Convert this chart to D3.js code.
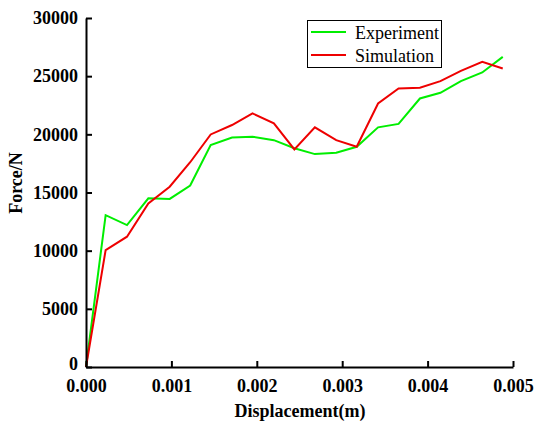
<!DOCTYPE html>
<html><head><meta charset="utf-8">
<script src="https://cdn.jsdelivr.net/npm/d3@7"></script>
<style>body{margin:0;background:#fff}</style>
</head><body>
<svg id="c" width="537" height="423"></svg>
<script>
const displacement = [0, 0.00023, 0.00048, 0.00073, 0.00098, 0.00122, 0.00146, 0.00171, 0.00195, 0.00220, 0.00244, 0.00268, 0.00293, 0.00317, 0.00342, 0.00366, 0.00391, 0.00415, 0.00439, 0.00464, 0.00488];
const experiment = [0, 13050, 12200, 14500, 14450, 15600, 19070, 19730, 19790, 19500, 18800, 18300, 18420, 18930, 20600, 20900, 23080, 23570, 24570, 25320, 26660];
const simulation = [0, 10050, 11200, 14060, 15500, 17600, 19990, 20800, 21800, 20940, 18700, 20600, 19500, 18930, 22650, 23950, 24000, 24570, 25460, 26230, 25660];
const seriesNames = ["Experiment", "Simulation"];
const seriesColors = ["#00ee00", "#ee0000"];
const xTicks = [0, 0.001, 0.002, 0.003, 0.004, 0.005];
const yTicks = [0, 5000, 10000, 15000, 20000, 25000, 30000];

const svg = d3.select("#c");
const x = d3.scaleLinear().domain([0, 0.005]).range([86, 513]);
const y = d3.scaleLinear().domain([0, 30000]).range([367, 18]);
const font = "'Liberation Serif', 'Times New Roman', serif";

const line = d3.line().x(d => x(d[0])).y(d => y(d[1]));
[experiment, simulation].forEach((s, i) => {
  svg.append("path")
    .datum(displacement.map((d, j) => [d, s[j]]))
    .attr("d", line).attr("fill", "none")
    .attr("stroke", seriesColors[i]).attr("stroke-width", 2)
    .attr("stroke-linejoin", "miter");
});

const xAxis = svg.append("g").attr("transform", "translate(0,367)")
  .call(d3.axisBottom(x).tickValues(xTicks).tickFormat(d3.format(".3f")).tickSizeInner(-6).tickSizeOuter(0).tickPadding(12));
const yAxis = svg.append("g").attr("transform", "translate(86,0)")
  .call(d3.axisLeft(y).tickValues(yTicks).tickFormat(d3.format("d")).tickSizeInner(-6).tickSizeOuter(0).tickPadding(8));
[xAxis, yAxis].forEach(g => {
  g.attr("font-family", null).attr("font-size", null);
  g.select(".domain").attr("stroke", "#000").attr("stroke-width", 2);
  g.selectAll(".tick line").attr("stroke", "#000").attr("stroke-width", 2);
  g.selectAll(".tick text").attr("fill", "#000").style("font-family", font)
    .style("font-weight", "bold").style("font-size", "18px");
});
yAxis.selectAll(".tick text").filter(d => d === 0).attr("dy", "0.12em");

svg.append("text").attr("x", 300).attr("y", 417).attr("text-anchor", "middle")
  .style("font-family", font).style("font-weight", "bold").style("font-size", "18px")
  .text("Displacement(m)");
svg.append("text").attr("transform", "translate(22,183) rotate(-90)").attr("text-anchor", "middle")
  .style("font-family", font).style("font-weight", "bold").style("font-size", "18px")
  .text("Force/N");

const lg = svg.append("g");
lg.append("rect").attr("x", 307.5).attr("y", 20.5).attr("width", 134).attr("height", 47)
  .attr("fill", "#fff").attr("stroke", "#000").attr("stroke-width", 1);
seriesNames.forEach((n, i) => {
  const yy = 32 + i * 23;
  lg.append("line").attr("x1", 311).attr("x2", 346).attr("y1", yy).attr("y2", yy)
    .attr("stroke", seriesColors[i]).attr("stroke-width", 2);
  lg.append("text").attr("x", 355).attr("y", yy + 6.5)
    .style("font-family", font).style("font-size", "18px").text(n);
});
</script>
</body></html>
